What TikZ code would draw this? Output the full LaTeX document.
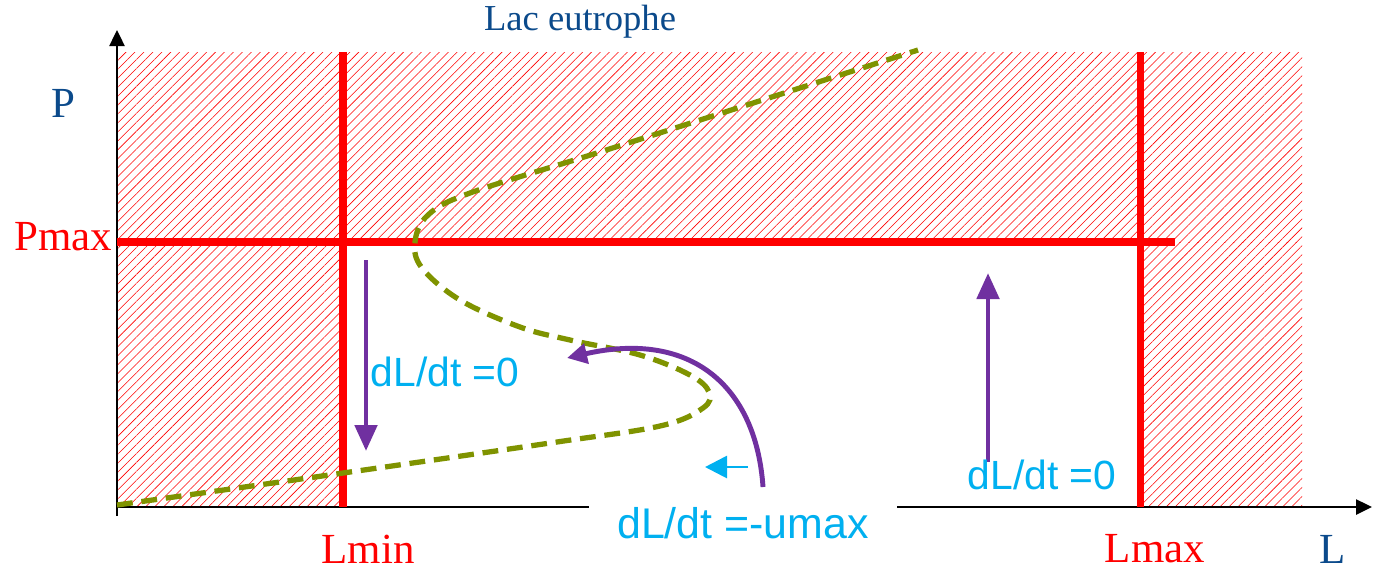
\documentclass[tikz,border=0pt]{standalone}
\usepackage{fontspec}
\setmainfont{Liberation Serif}
\setsansfont{Liberation Sans}
\usetikzlibrary{arrows.meta, patterns.meta}
\definecolor{cred}{HTML}{FF0000}
\definecolor{cpurple}{HTML}{7030A0}
\definecolor{ccyan}{HTML}{00B0F0}
\definecolor{colive}{HTML}{7F9300}
\definecolor{cnavy}{HTML}{0B4A8B}
\tikzset{
  axis/.style={-{Triangle[length=1.6mm, width=1.5mm]}, line width=0.7pt},
  limit/.style={draw=cred, line width=2pt},
  hatch/.style={pattern={Lines[angle=45, distance=1.8pt, line width=0.16pt]}, pattern color=cred},
  flow/.style={-{Triangle[length=2.6mm, width=2.2mm]}, draw=cpurple, line width=1.4pt},
  isocline/.style={draw=colive, line width=1.5pt, dash pattern=on 4.5pt off 2.5pt},
  var/.style={font=\fontsize{12.2}{14}\selectfont},
  rate/.style={text=ccyan, font=\sffamily\fontsize{11.6}{13}\selectfont, inner sep=1pt},
}
\begin{document}
\begin{tikzpicture}[x=0.01cm, y=-0.01cm]
  \useasboundingbox (0,0) rectangle (1377,572);
  % forbidden zones
  \fill[hatch] (117,52) rectangle (343,507);
  \fill[hatch] (343,52) rectangle (1302,242);
  \fill[hatch] (1140,242) rectangle (1302,507);
  % axes
  \coordinate (O) at (117,507);
  \coordinate (ytop) at (117,30);
  \coordinate (xend) at (1372,507);
  \draw[axis] (117,516) -- (ytop);
  \draw[axis] (O) -- (xend);
  % constraints
  \draw[limit] (343,52) -- (343,507);
  \draw[limit] (1140,52) -- (1140,507);
  \draw[limit] (117,242) -- (1175,242);
  % isocline
  \draw[isocline] plot[smooth, tension=0.6] coordinates {(117,505) (343,473) (550,443)
    (660,426) (703,408) (709,392) (690,375) (640,355) (570,340) (520,327) (460,300)
    (422,268) (415,242) (428,215) (470,193) (600,152) (750,104) (918,50)};
  % trajectories
  \coordinate (downA) at (366,260);
  \coordinate (downB) at (366,451);
  \coordinate (upA) at (988,462);
  \coordinate (upB) at (988,273);
  \coordinate (curvA) at (763,487);
  \coordinate (curvB) at (567,358);
  \coordinate (shortA) at (748,467);
  \coordinate (shortB) at (705,467);
  \draw[flow] (downA) -- (downB);
  \draw[flow] (upA) -- (upB);
  \draw[flow, -{Triangle[length=2mm, width=2mm]}] (curvA) .. controls (756,385) and (690,330) .. (curvB);
  \draw[-{Triangle[length=2.2mm, width=2.2mm]}, draw=ccyan, line width=0.8pt] (shortA) -- (shortB);
  % labels
  \node[var, text=cnavy, font=\fontsize{10.4}{12}\selectfont] (title) at (580,22) {Lac eutrophe};
  \node[var, text=cnavy] (labP) at (63,103) {P};
  \node[var, text=cred, anchor=east, inner sep=0pt] (labPmax) at (113,237) {Pmax};
  \node[var, text=cred] (labLmin) at (368,549) {Lmin};
  \node[var, text=cred] (labLmax) at (1155,549) {Lmax};
  \node[var, text=cnavy] (labL) at (1333,549) {L};
  \node[rate] (rateA) at (445,372) {dL/dt =0};
  \node[rate] (rateB) at (1042,475) {dL/dt =0};
  \node[rate, fill=white, inner xsep=8pt, font=\sffamily\fontsize{12.2}{14}\selectfont] (rateC) at (743,523) {dL/dt =-umax};
\end{tikzpicture}
\end{document}
